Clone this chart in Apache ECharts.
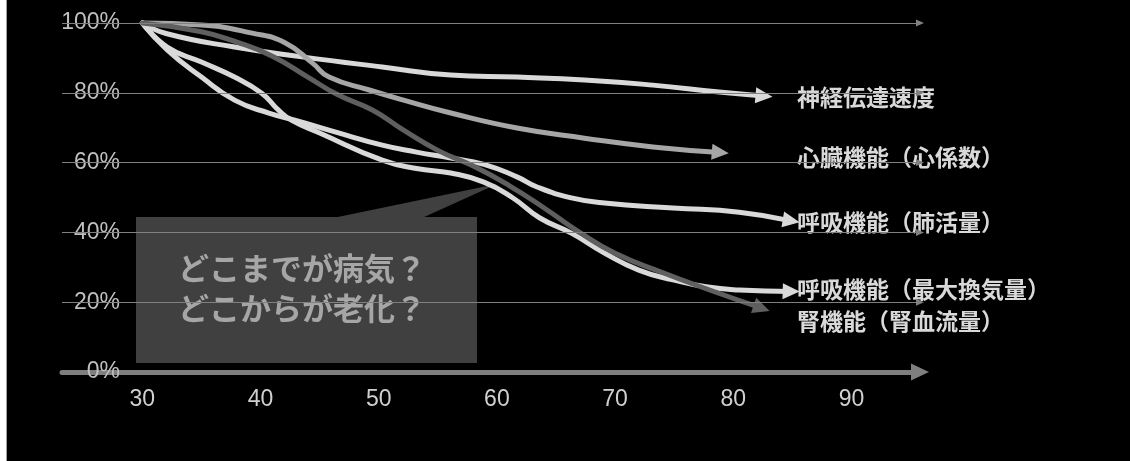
<!DOCTYPE html>
<html>
<head>
<meta charset="utf-8">
<script src="https://cdn.jsdelivr.net/npm/echarts@6/dist/echarts.min.js"></script>
<style>
  html, body { margin: 0; padding: 0; background: #000; }
  #chart { width: 1130px; height: 461px; }
</style>
</head>
<body>
<div id="chart"></div>
<script>
// Age (years) on x, remaining function (% of age-30 level) on y
const xTicks = [30, 40, 50, 60, 70, 80, 90];
const yTicks = [0, 20, 40, 60, 80, 100];

const nerveName = '神経伝達速度';
const nerve = [[30,100],[32,97],[37.8,93.1],[43.5,90.3],[50.3,87.4],[56.1,85.1],[61.7,84.5],[67.4,83.7],[73.2,82.2],[78.8,80.2],[82.6,79.1]];

const heartName = '心臓機能（心係数）';
const heart = [[30,100],[35,99.4],[39.3,97.1],[42.1,94.3],[44.4,88.5],[45.8,84.5],[49.2,80.8],[52.1,77.9],[56.1,74.2],[61.7,69.9],[67.4,67.0],[73.2,64.5],[78.9,62.9]];

const vitalName = '呼吸機能（肺活量）';
const vital = [[30,100],[32.1,92.3],[35,84.5],[37.8,77.9],[40.7,74.2],[43.5,71.6],[46.3,68.8],[50.3,65.0],[53.2,63.0],[56.1,61.3],[58.9,59.5],[61.7,55.9],[63.4,53.0],[66.3,49.9],[69.1,48.4],[74.9,47.0],[80.5,45.8],[84.9,43.3]];

const ventName = '呼吸機能（最大換気量）';
const vent = [[30,100],[32.1,93.1],[35,88.8],[37.8,84.5],[40.1,79.9],[41.5,75.1],[42.6,72.2],[45,68.5],[50.3,60.7],[53.2,58.3],[56.1,57.0],[58.9,54.4],[61.3,50.0],[63.6,44.2],[66.3,39.8],[69.1,34.1],[72,29.2],[74.9,26.4],[77.7,24.4],[80.5,23.5],[84.9,23.1]];

const kidneyName = '腎機能（腎血流量）';
const kidney = [[30,100],[35,97.5],[38,94.5],[41,90.5],[44,84.5],[46.5,79.5],[49.5,75],[52,69.5],[55,63.5],[58,59],[61,53.5],[64,47],[67,40],[70,34],[74,28.5],[78,23.5],[82.4,18.3]];

const calloutLines = ['どこまでが病気？', 'どこからが老化？'];

const lineDefs = [
  { name: nerveName,  data: nerve,  color: '#d9d9d9', labelY: 97 },
  { name: heartName,  data: heart,  color: '#a6a6a6', labelY: 157 },
  { name: vitalName,  data: vital,  color: '#d9d9d9', labelY: 222 },
  { name: ventName,   data: vent,   color: '#d9d9d9', labelY: 289 },
  { name: kidneyName, data: kidney, color: '#5f5f5f', labelY: 321 }
];

const chart = echarts.init(document.getElementById('chart'));

function buildSeries(rotations) {
  const series = [{
    // horizontal reference lines with small arrowheads
    type: 'line', data: [], z: 0, silent: true,
    markLine: {
      silent: true,
      symbol: ['none', 'triangle'],
      symbolSize: [7, 8],
      label: { show: false },
      lineStyle: { color: '#808080', width: 1, type: 'solid' },
      data: yTicks.filter(v => v > 0).map(v => ({ yAxis: v }))
    }
  }];
  lineDefs.forEach((d, i) => {
    const n = d.data.length;
    series.push({
      name: d.name,
      type: 'line',
      z: 3,
      smooth: 0.5,
      clip: false,
      showSymbol: true,
      symbol: 'none',
      lineStyle: { color: d.color, width: 5, cap: 'round' },
      itemStyle: { color: d.color },
      emphasis: { disabled: true },
      data: d.data.map((p, j) => j === n - 1
        ? { value: p, symbol: 'triangle', symbolSize: [16, 17], symbolRotate: rotations ? rotations[i] : -95 }
        : { value: p, symbol: 'none' })
    });
  });
  return series;
}

const labelGraphics = lineDefs.map(d => ({
  type: 'text', x: 797, y: d.labelY, z: 5,
  style: { text: d.name, fill: '#d9d9d9', font: 'bold 23px "Noto Sans CJK JP"', verticalAlign: 'middle' }
}));

chart.setOption({
  backgroundColor: '#000000',
  animation: false,
  grid: { left: 62, right: 210, top: 23, bottom: 89 },
  xAxis: {
    type: 'value', min: 23.2, max: 95.8,
    axisLine: { show: true, lineStyle: { color: '#7f7f7f', width: 5 }, symbol: ['none', 'triangle'], symbolSize: [17, 18] },
    axisTick: { show: false },
    splitLine: { show: false },
    axisLabel: {
      customValues: xTicks, margin: 16,
      color: '#d0d0d0', fontSize: 23, fontFamily: 'Liberation Sans'
    }
  },
  yAxis: {
    type: 'value', min: 0, max: 100, interval: 20, offset: -58,
    axisLine: { show: false }, axisTick: { show: false }, splitLine: { show: false },
    axisLabel: { formatter: '{value}%', margin: 0, color: '#bfbfbf', fontSize: 23, fontFamily: 'Liberation Sans' },
    z: 4
  },
  graphic: [
    { type: 'rect', shape: { x: 0, y: 0, width: 6, height: 461 }, style: { fill: '#ffffff' }, z: 1 },
    { type: 'line', shape: { x1: 6.5, y1: 0, x2: 6.5, y2: 461 }, style: { stroke: '#a0a0a0', lineWidth: 1 }, z: 1 },
    { type: 'polygon', shape: { points: [[333, 218], [422, 218], [497, 184]] }, style: { fill: '#404040' }, z: 1 },
    { type: 'rect', shape: { x: 136, y: 217, width: 341, height: 146 }, style: { fill: '#404040' }, z: 1 },
    { type: 'text', x: 302, y: 288, z: 2, style: {
        text: calloutLines.join('\n'), align: 'center', verticalAlign: 'middle',
        fill: '#a6a6a6', font: 'bold 31px "Noto Sans CJK JP"', lineHeight: 40 } }
  ].concat(labelGraphics),
  series: buildSeries(null)
});

// Turn each end triangle along the final segment of its line
const rotations = lineDefs.map(d => {
  const n = d.data.length;
  const a = chart.convertToPixel({ gridIndex: 0 }, d.data[n - 2]);
  const b = chart.convertToPixel({ gridIndex: 0 }, d.data[n - 1]);
  const ang = Math.atan2(b[1] - a[1], b[0] - a[0]) * 180 / Math.PI;
  return -(90 + ang);
});
chart.setOption({ series: buildSeries(rotations) });
</script>
</body>
</html>
